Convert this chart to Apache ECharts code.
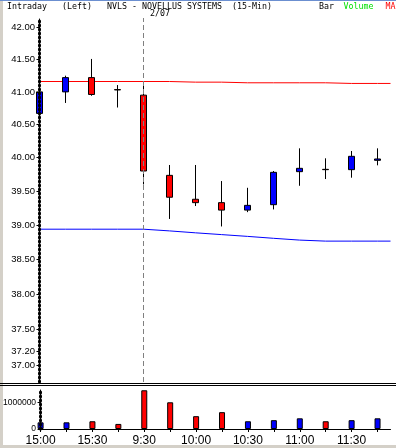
<!DOCTYPE html>
<html><head><meta charset="utf-8">
<script src="https://cdn.jsdelivr.net/npm/echarts@6/dist/echarts.min.js"></script>
<style>html,body{margin:0;padding:0;background:#fff}#c{width:396px;height:448px}</style>
</head><body><div id="c"></div>
<script>
// ---- data ----
const timeLabels = ['15:00','15:15','15:30','15:45','9:30','9:45','10:00','10:15','10:30','10:45','11:00','11:15','11:30','11:45'];
const opens  = [40.67, 41.00, 41.22, 41.035, 40.95, 39.735, 39.38, 39.33, 39.22, 39.30, 39.79, 39.825, 39.82, 39.96];
const closes = [41.00, 41.22, 40.96, 41.03, 39.80, 39.41, 39.33, 39.22, 39.29, 39.78, 39.84, 39.82, 40.02, 39.98];
const lows   = [40.53, 40.83, 40.94, 40.76, 39.60, 39.09, 39.28, 38.98, 39.19, 39.23, 39.58, 39.68, 39.70, 39.885];
const highs  = [41.16, 41.25, 41.51, 41.105, 41.12, 39.89, 39.89, 39.65, 39.55, 39.80, 40.14, 39.99, 40.10, 40.14];
const volumes = [250000, 250000, 290000, 190000, 1450000, 1000000, 480000, 630000, 290000, 330000, 400000, 290000, 330000, 400000];
// moving averages, one value per bar plus the closing half slot
const maRed  = [41.16, 41.16, 41.16, 41.16, 41.16, 41.16, 41.15, 41.15, 41.14, 41.14, 41.14, 41.14, 41.13, 41.13, 41.13];
const maBlue = [38.94, 38.94, 38.94, 38.94, 38.94, 38.915, 38.887, 38.861, 38.835, 38.807, 38.781, 38.766, 38.766, 38.766, 38.766];
const priceTicks = [42.00, 41.50, 41.00, 40.50, 40.00, 39.50, 39.00, 38.50, 38.00, 37.50, 37.20, 37.00];
const volumeTicks = [0, 1000000];
const sessionBreakIndex = 4;
const sessionLabel = '2/07';

// ---- build ----
const slots = timeLabels.map((_, i) => i);
const lastSlot = slots.length - 0.5;
const maSlots = slots.concat([lastSlot]);
const candleData = slots.map(i => [i, opens[i], closes[i], lows[i], highs[i]]);
const volData = slots.map(i => ({
  value: [i, volumes[i]],
  itemStyle: { color: closes[i] >= opens[i] ? '#0000ff' : '#ff0000' }
}));
const labelSlots = slots.filter(i => i % 2 === 0);

const chart = echarts.init(document.getElementById('c'), null, { renderer: 'canvas' });
const mono = "'DejaVu Sans Mono', monospace";
const axisFont = "'Liberation Sans', Arial, sans-serif";
const narrowFont = "'Liberation Sans Narrow', 'Liberation Sans', Arial, sans-serif";
const rulerAxis = (gi) => ({ type: 'value', gridIndex: gi, min: 0, max: 1, position: 'left', offset: 0, z: 10,
  splitLine: { show: false }, axisTick: { show: false }, axisLabel: { show: false },
  axisLine: { show: true, lineStyle: { color: '#000', width: 3, type: [1, 3] } } });

const option = {
  animation: false,
  backgroundColor: '#ffffff',
  grid: [
    { left: 39.5, right: 5.5, top: 18, height: 364 },
    { left: 39.5, right: 5.5, top: 390, height: 39 }
  ],
  xAxis: [
    { type: 'value', gridIndex: 0, min: 0, max: lastSlot, show: false, splitLine: { show: false } },
    { type: 'value', gridIndex: 1, min: 0, max: lastSlot, interval: 1,
      splitLine: { show: false },
      axisLine: { show: true, onZero: false, lineStyle: { color: '#000', width: 1 } },
      axisTick: { show: true, length: 3, customValues: slots, lineStyle: { color: '#000' } },
      axisLabel: { customValues: labelSlots, formatter: v => timeLabels[Math.round(v)] || '',
        fontSize: 12, fontFamily: narrowFont, color: '#000', margin: 6 } }
  ],
  yAxis: [
    { type: 'log', gridIndex: 0, min: 36.769, max: 42.153, position: 'left', z: 10,
      splitLine: { show: false },
      axisLine: { show: true, lineStyle: { color: '#000', width: 1, type: [1, 1] } },
      axisTick: { show: true, length: 3, customValues: priceTicks, lineStyle: { color: '#000' } },
      axisLabel: { customValues: priceTicks, formatter: v => Number(v).toFixed(2),
        fontSize: 9.5, fontFamily: axisFont, color: '#000', margin: 4.5 } },
    { type: 'value', gridIndex: 1, min: 0, max: 1460000, position: 'left', z: 10,
      splitLine: { show: false },
      axisLine: { show: true, lineStyle: { color: '#000', width: 1, type: [1, 1] } },
      axisTick: { show: true, length: 3, customValues: volumeTicks, lineStyle: { color: '#000' } },
      axisLabel: { customValues: volumeTicks, formatter: v => String(Math.round(v)),
        fontSize: 8.5, fontFamily: axisFont, color: '#000', margin: 4.5 } },
    rulerAxis(0),
    rulerAxis(1)
  ],
  series: [
    { type: 'line', xAxisIndex: 0, yAxisIndex: 0, showSymbol: false, silent: true,
      data: maSlots.map((x, i) => [x, maRed[i]]), lineStyle: { color: '#ff0000', width: 1 }, z: 1 },
    { type: 'line', xAxisIndex: 0, yAxisIndex: 0, showSymbol: false, silent: true,
      data: maSlots.map((x, i) => [x, maBlue[i]]), lineStyle: { color: '#0000ff', width: 1 }, z: 1 },
    { type: 'candlestick', xAxisIndex: 0, yAxisIndex: 0, barWidth: 6,
      encode: { x: 0, y: [1, 2, 3, 4] },
      data: candleData,
      itemStyle: { color: '#0000ff', color0: '#ff0000', borderColor: '#000', borderColor0: '#000',
        borderColorDoji: '#000', borderWidth: 1 },
      markLine: { silent: true, symbol: 'none', label: { show: false },
        lineStyle: { color: '#808080', type: [5, 3], width: 1 },
        data: [{ xAxis: sessionBreakIndex }] },
      z: 3 },
    { type: 'bar', xAxisIndex: 1, yAxisIndex: 1, barWidth: 6, data: volData,
      itemStyle: { borderColor: '#000', borderWidth: 1 } }
  ],
  graphic: [
    { type: 'rect', left: 0, top: 0, shape: { width: 3, height: 448 }, style: { fill: '#d4d0c8' }, silent: true },
    { type: 'rect', left: 0, top: 0, shape: { width: 396, height: 1 }, style: { fill: '#6b8fd0' }, silent: true },
    { type: 'rect', left: 0, top: 445, shape: { width: 396, height: 3 }, style: { fill: '#d4d0c8' }, silent: true },
    { type: 'rect', left: 0, top: 383, shape: { width: 396, height: 1 }, style: { fill: '#000' }, silent: true },
    { type: 'rect', left: 0, top: 385, shape: { width: 396, height: 1 }, style: { fill: '#000' }, silent: true },
    { type: 'text', x: 7, y: 6.5, style: { text: 'Intraday', font: '8.3px ' + mono, fill: '#000', verticalAlign: 'middle' } },
    { type: 'text', x: 62, y: 6.5, style: { text: '(Left)', font: '8.3px ' + mono, fill: '#000', verticalAlign: 'middle' } },
    { type: 'text', x: 107, y: 6.5, style: { text: 'NVLS - NOVELLUS SYSTEMS', font: '8.3px ' + mono, fill: '#000', verticalAlign: 'middle' } },
    { type: 'text', x: 232, y: 6.5, style: { text: '(15-Min)', font: '8.3px ' + mono, fill: '#000', verticalAlign: 'middle' } },
    { type: 'text', x: 319, y: 6.5, style: { text: 'Bar', font: '8.3px ' + mono, fill: '#000', verticalAlign: 'middle' } },
    { type: 'text', x: 343.5, y: 6.5, style: { text: 'Volume', font: '8.3px ' + mono, fill: '#00e000', verticalAlign: 'middle' } },
    { type: 'text', x: 385.5, y: 6.5, style: { text: 'MA', font: '8.3px ' + mono, fill: '#ff0000', verticalAlign: 'middle' } },
    { type: 'text', x: 150, y: 13.5, style: { text: sessionLabel, font: '8.3px ' + mono, fill: '#000', verticalAlign: 'middle' } }
  ]
};
chart.setOption(option);
</script>
</body></html>
